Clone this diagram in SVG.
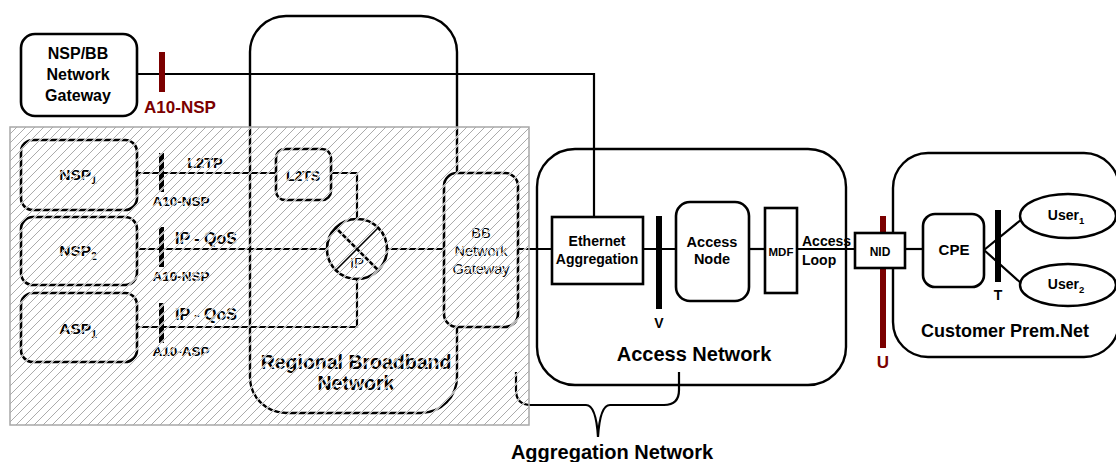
<svg xmlns="http://www.w3.org/2000/svg" width="1116" height="462" viewBox="0 0 1116 462">
<defs>
<pattern id="hatch" patternUnits="userSpaceOnUse" width="9" height="9">
<path d="M-1,10 L10,-1 M-5,5 L5,-5 M4,14 L14,4" stroke="#ffffff" stroke-width="1.8"/>
<path d="M-1,10 L10,-1 M-5,5 L5,-5 M4,14 L14,4" stroke="#959595" stroke-width="0.8"/>
</pattern>
<style>
.box{fill:#fff;stroke:#000;stroke-width:2.6}
.area{fill:none;stroke:#000;stroke-width:2.4}
.ln{fill:none;stroke:#000;stroke-width:2.2}
.bar{fill:#000}
.rbar{fill:#7b0000}
text{font-family:"Liberation Sans",Arial,sans-serif;font-weight:bold;fill:#000;text-anchor:middle}
.red{fill:#7b0000}
.norm{font-weight:normal}
.st{text-anchor:start}
</style>
</defs>
<rect width="1116" height="462" fill="#fff"/>

<g id="regional-network">
<rect class="area" x="250" y="16" width="207" height="397" rx="36"/>
<text x="356" y="369" font-size="19.5">Regional Broadband</text>
<text x="356" y="390" font-size="19.5">Network</text>
</g>

<g id="access-network">
<rect class="area" x="537" y="149" width="309" height="236" rx="38"/>
<text x="694" y="361" font-size="20">Access Network</text>
</g>

<g id="customer-prem">
<rect class="area" x="893" y="153" width="226" height="204" rx="35"/>
<text x="1005" y="337" font-size="18">Customer Prem.Net</text>
</g>

<g id="connectors">
<path class="ln" d="M137,74 H594 V217"/>
<path class="ln" d="M137,173 H276"/>
<path class="ln" d="M331,173 H357 V219"/>
<path class="ln" d="M137,249 H327"/>
<path class="ln" d="M387,249 H444"/>
<path class="ln" d="M137,327 H357 V279"/>
<path class="ln" d="M518,249 H552"/>
<path class="ln" d="M643,249 H676"/>
<path class="ln" d="M749,249 H765"/>
<path class="ln" d="M797,249 H855"/>
<path class="ln" d="M905,249 H923"/>
<path class="ln" d="M984,250 L1022,219 M984,250 L1022,284"/>
<path class="ln" d="M516,372 V390 Q516,405 531,405 H586 Q596,405 598,437 Q600,405 610,405 H664 Q679,405 679,390 V372"/>
</g>

<g id="nsp-bb-gateway">
<rect class="box" x="21" y="34" width="116" height="82" rx="14"/>
<text x="78" y="59" font-size="16">NSP/BB</text>
<text x="78" y="80" font-size="16">Network</text>
<text x="78" y="101" font-size="16">Gateway</text>
</g>
<g id="a10-nsp-top">
<rect class="rbar" x="159" y="52" width="6" height="40"/>
<text x="180" y="113" font-size="17" class="red">A10-NSP</text>
</g>

<g id="nsp1">
<rect class="box" x="21" y="140" width="116" height="70" rx="12"/>
<text x="78" y="180" font-size="15.5">NSP<tspan font-size="10" dy="4">1</tspan></text>
</g>
<g id="nsp2">
<rect class="box" x="21" y="217" width="116" height="68" rx="12"/>
<text x="78" y="256" font-size="15.5">NSP<tspan font-size="10" dy="4">2</tspan></text>
</g>
<g id="asp1">
<rect class="box" x="21" y="293" width="116" height="69" rx="12"/>
<text x="78" y="334" font-size="15.5">ASP<tspan font-size="10" dy="4">1</tspan></text>
</g>

<g id="if-nsp1">
<rect class="bar" x="159" y="153" width="5" height="39"/>
<text x="205" y="168" font-size="14.5">L2TP</text>
<text x="181" y="206" font-size="13.5">A10-NSP</text>
</g>
<g id="if-nsp2">
<rect class="bar" x="159" y="227" width="5" height="40"/>
<text x="206" y="244" font-size="16">IP - QoS</text>
<text x="181" y="281" font-size="13.5">A10-NSP</text>
</g>
<g id="if-asp1">
<rect class="bar" x="159" y="303" width="5" height="40"/>
<text x="206" y="320" font-size="16">IP - QoS</text>
<text x="181" y="356" font-size="13.5">A10-ASP</text>
</g>

<g id="l2ts">
<rect class="box" x="276" y="149" width="55" height="51" rx="9"/>
<text x="303" y="181" font-size="14">L2TS</text>
</g>

<g id="ip-router">
<circle cx="357" cy="249" r="30" fill="#fff" stroke="#000" stroke-width="2.6"/>
<path d="M336,228 L378,270" stroke="#000" stroke-width="2.6"/>
<path d="M336,270 L378,228" stroke="#000" stroke-width="1.5"/>
<text x="357" y="268" font-size="15" class="norm">IP</text>
</g>

<g id="bb-gateway">
<rect class="box" x="444" y="173" width="74" height="154" rx="13"/>
<text x="481" y="238" font-size="14.5" class="norm">BB</text>
<text x="481" y="256" font-size="14.5" class="norm">Network</text>
<text x="481" y="274" font-size="14.5" class="norm">Gateway</text>
</g>

<rect x="10" y="127" width="519" height="298" fill="url(#hatch)" stroke="#a8a8a8" stroke-width="1.5"/>

<g id="ethernet-aggregation">
<rect class="box" x="552" y="217" width="91" height="67"/>
<text x="597" y="246" font-size="14">Ethernet</text>
<text x="597" y="264" font-size="14">Aggregation</text>
</g>
<g id="v-ref">
<rect class="bar" x="656" y="216" width="6" height="93"/>
<text x="659" y="328" font-size="14">V</text>
</g>
<g id="access-node">
<rect class="box" x="676" y="202" width="73" height="99" rx="14"/>
<text x="712" y="247" font-size="14.5">Access</text>
<text x="712" y="264" font-size="14.5">Node</text>
</g>
<g id="mdf">
<rect class="box" x="765" y="208" width="32" height="85"/>
<text x="781" y="256" font-size="11.5">MDF</text>
</g>
<g id="access-loop-label">
<text x="802" y="246" font-size="14" class="st">Access</text>
<text x="802" y="265" font-size="14" class="st">Loop</text>
</g>
<g id="u-ref">
<rect class="rbar" x="880" y="216" width="6" height="132"/>
<text x="883" y="368" font-size="17" class="red">U</text>
</g>
<g id="nid">
<rect class="box" x="855" y="233" width="50" height="35"/>
<text x="880" y="256" font-size="12">NID</text>
</g>
<g id="cpe">
<rect class="box" x="923" y="214" width="61" height="73" rx="12"/>
<text x="954" y="255" font-size="15">CPE</text>
</g>
<g id="t-ref">
<rect class="bar" x="995" y="210" width="6" height="72"/>
<text x="998" y="300" font-size="14">T</text>
</g>
<g id="user1">
<ellipse cx="1068" cy="216" rx="48" ry="22" fill="#fff" stroke="#000" stroke-width="2.4"/>
<text x="1066" y="220" font-size="14">User<tspan font-size="9.5" dy="4">1</tspan></text>
</g>
<g id="user2">
<ellipse cx="1068" cy="285" rx="48" ry="21" fill="#fff" stroke="#000" stroke-width="2.4"/>
<text x="1066" y="289" font-size="14">User<tspan font-size="9.5" dy="4">2</tspan></text>
</g>

<g id="aggregation-label">
<text x="612" y="459" font-size="20">Aggregation Network</text>
</g>
</svg>
